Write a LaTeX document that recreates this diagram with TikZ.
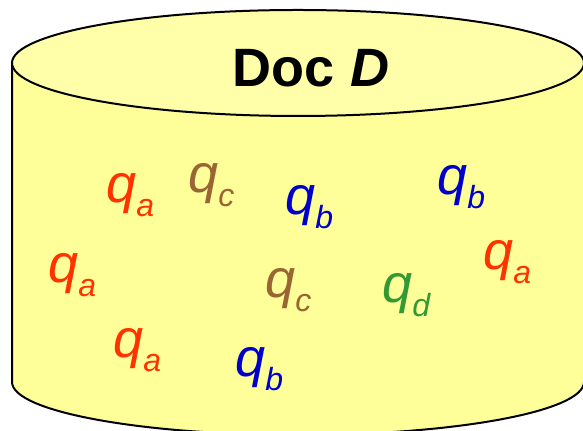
\documentclass[tikz,border=0pt]{standalone}
\usepackage{fontspec}
\setmainfont{Liberation Sans}
\usepackage{tikz}
\usetikzlibrary{positioning}
\definecolor{DocBody}{HTML}{FFFF99}
\definecolor{DocTop}{HTML}{FFFFAA}
\definecolor{TermRed}{HTML}{FF3300}
\definecolor{TermBrown}{HTML}{996633}
\definecolor{TermBlue}{HTML}{0000CC}
\definecolor{TermGreen}{HTML}{339933}
\newcommand{\qterm}[1]{q\raisebox{-7pt}{\fontsize{16}{18}\selectfont #1}}

\begin{document}
\begin{tikzpicture}[x=0.5pt,y=-0.5pt,every node/.style={inner sep=0pt, anchor=base west, font=\fontsize{27}{30}\selectfont\itshape}, wall/.style={draw=black, line width=1pt, fill=DocBody}, lid/.style={draw=black, line width=1pt, fill=DocTop}]
        \useasboundingbox (0,0) rectangle (583,431);
        % cylinder
        \draw[wall] (12,63) -- (12,382) arc[start angle=180, end angle=0, x radius=286, y radius=53] -- (584,63) -- cycle;
        \draw[lid] (298,63) ellipse[x radius=286, y radius=53];
        \node[anchor=base, font=\fontsize{27}{30}\selectfont\bfseries] (title) at (311,87) {Doc \textit{D}};
        % terms
        \node[text=TermRed] (qa1) at (106,203) {\qterm{a}};
        \node[text=TermBrown] (qc1) at (188,193) {\qterm{c}};
        \node[text=TermBlue] (qb1) at (285,215) {\qterm{b}};
        \node[text=TermBlue] (qb2) at (437,195) {\qterm{b}};
        \node[text=TermRed] (qa2) at (48,283) {\qterm{a}};
        \node[text=TermRed] (qa4) at (483,270) {\qterm{a}};
        \node[text=TermBrown] (qc2) at (265,298) {\qterm{c}};
        \node[text=TermGreen] (qd) at (382,303) {\qterm{d}};
        \node[text=TermRed] (qa3) at (113,358) {\qterm{a}};
        \node[text=TermBlue] (qb3) at (235,377) {\qterm{b}};
    \end{tikzpicture}
\end{document}
